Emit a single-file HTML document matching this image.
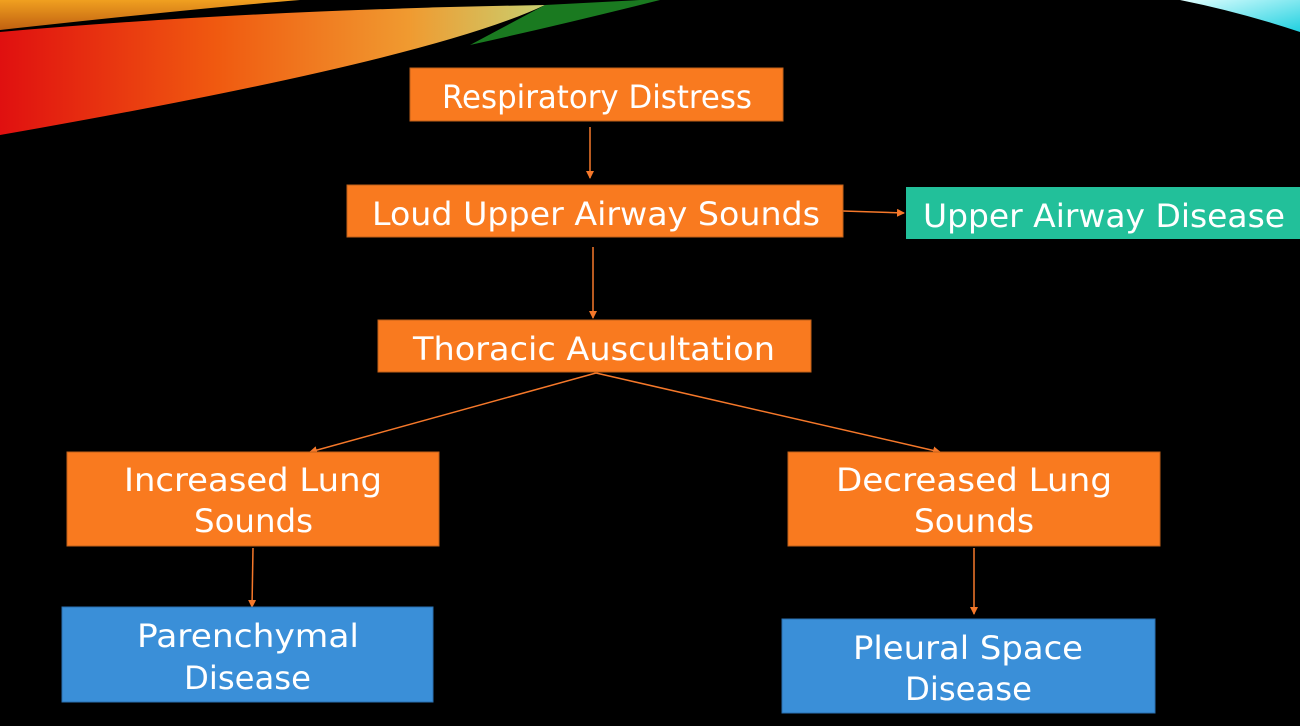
<!DOCTYPE html>
<html><head><meta charset="utf-8"><style>
html,body{margin:0;padding:0;background:#000;width:1300px;height:726px;overflow:hidden}
text{font-family:"DejaVu Sans","Liberation Sans",sans-serif;font-size:32px;fill:#fff}
</style></head><body>
<svg width="1300" height="726" viewBox="0 0 1300 726" xmlns="http://www.w3.org/2000/svg">
<defs>
<linearGradient id="sw" x1="0" y1="0" x2="1" y2="0">
<stop offset="0" stop-color="#e01010"/><stop offset="0.4" stop-color="#f05a10"/><stop offset="0.75" stop-color="#f09a30"/><stop offset="1" stop-color="#c8d070"/>
</linearGradient>
<linearGradient id="sw2" x1="0" y1="0" x2="0" y2="1">
<stop offset="0" stop-color="#f0a020"/><stop offset="1" stop-color="#c06010"/>
</linearGradient>
<linearGradient id="cy" x1="0" y1="0" x2="1" y2="1">
<stop offset="0" stop-color="#e0ffff"/><stop offset="1" stop-color="#20d0e0"/>
</linearGradient>
<marker id="a" markerWidth="8" markerHeight="8" refX="7" refY="4" orient="auto" markerUnits="userSpaceOnUse">
<path d="M0,0 L8,4 L0,8 z" fill="#f5782a"/></marker>
</defs>
<path d="M0,0 L300,0 Q200,8 0,30 Z" fill="url(#sw2)"/>
<path d="M0,32 Q250,10 545,5 Q430,60 0,135 Z" fill="url(#sw)"/>
<path d="M545,5 L640,0 L660,0 Q560,25 470,45 Z" fill="#1a7a20"/>
<path d="M1180,0 L1300,0 L1300,32 Q1240,12 1180,0 Z" fill="url(#cy)"/>
<g stroke="#f5782a" stroke-width="1.5" fill="none">
<line x1="590" y1="127" x2="590" y2="178" marker-end="url(#a)"/>
<line x1="843" y1="211" x2="904" y2="213" marker-end="url(#a)"/>
<line x1="593" y1="247" x2="593" y2="318" marker-end="url(#a)"/>
<line x1="596" y1="373" x2="310" y2="452" marker-end="url(#a)"/>
<line x1="596" y1="373" x2="940" y2="452" marker-end="url(#a)"/>
<line x1="253" y1="548" x2="252" y2="607" marker-end="url(#a)"/>
<line x1="974" y1="548" x2="974" y2="614" marker-end="url(#a)"/>
</g>
<g stroke="#c0601a" stroke-width="1">
<rect x="410" y="68" width="373" height="53" fill="#f97a1f"/>
<rect x="347" y="185" width="496" height="52" fill="#f97a1f"/>
<rect x="378" y="320" width="433" height="52" fill="#f97a1f"/>
<rect x="67" y="452" width="372" height="94" fill="#f97a1f"/>
<rect x="788" y="452" width="372" height="94" fill="#f97a1f"/>
</g>
<rect x="906" y="187" width="394" height="52" fill="#22c09a"/>
<rect x="62" y="607" width="371" height="95" fill="#3a8fd8" stroke="#2a6fb0"/>
<rect x="782" y="619" width="373" height="94" fill="#3a8fd8" stroke="#2a6fb0"/>
<text x="442" y="108" textLength="310" lengthAdjust="spacingAndGlyphs">Respiratory Distress</text>
<text x="372" y="225" textLength="448" lengthAdjust="spacingAndGlyphs">Loud Upper Airway Sounds</text>
<text x="923" y="227" textLength="362" lengthAdjust="spacingAndGlyphs">Upper Airway Disease</text>
<text x="413" y="360" textLength="362" lengthAdjust="spacingAndGlyphs">Thoracic Auscultation</text>
<text x="124" y="491" textLength="258" lengthAdjust="spacingAndGlyphs">Increased Lung</text>
<text x="194" y="532" textLength="119" lengthAdjust="spacingAndGlyphs">Sounds</text>
<text x="836" y="491" textLength="276" lengthAdjust="spacingAndGlyphs">Decreased Lung</text>
<text x="914" y="532" textLength="120" lengthAdjust="spacingAndGlyphs">Sounds</text>
<text x="137" y="647" textLength="222" lengthAdjust="spacingAndGlyphs">Parenchymal</text>
<text x="184" y="689" textLength="127" lengthAdjust="spacingAndGlyphs">Disease</text>
<text x="853" y="659" textLength="230" lengthAdjust="spacingAndGlyphs">Pleural Space</text>
<text x="905" y="700" textLength="127" lengthAdjust="spacingAndGlyphs">Disease</text>
</svg>
</body></html>
